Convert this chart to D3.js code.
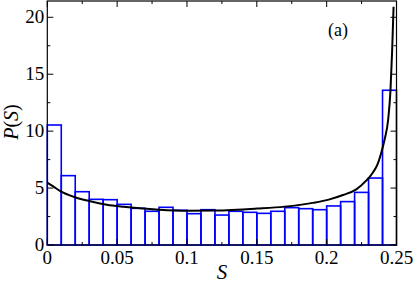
<!DOCTYPE html>
<html>
<head>
<meta charset="utf-8">
<script src="https://cdn.jsdelivr.net/npm/d3@7"></script>
<style>
  html, body { margin: 0; padding: 0; background: #fff; }
  svg { display: block; }
</style>
</head>
<body>
<svg id="chart" width="415" height="283"></svg>
<script>
// histogram: bins of width 0.01 from 0 to 0.25
const binStarts = [0, 0.01, 0.02, 0.03, 0.04, 0.05, 0.06, 0.07, 0.08, 0.09, 0.10, 0.11, 0.12,
  0.13, 0.14, 0.15, 0.16, 0.17, 0.18, 0.19, 0.20, 0.21, 0.22, 0.23, 0.24];
const binHeights = [10.54, 6.09, 4.68, 4.01, 3.98, 3.57, 3.22, 2.96, 3.31, 3.05, 2.75, 3.10, 2.63,
  2.96, 2.87, 2.78, 2.96, 3.28, 3.19, 3.10, 3.43, 3.81, 4.62, 5.88, 13.59];
const binWidth = 0.01;

// theoretical curve
const curveS = [0, 0.0045, 0.0093, 0.0188, 0.0307, 0.0426, 0.0545, 0.0664, 0.08, 0.10, 0.12,
  0.15, 0.17, 0.19, 0.2021, 0.2117, 0.2212, 0.2283, 0.233, 0.2367, 0.239, 0.2414, 0.244,
  0.2457, 0.2469, 0.2479];
const curveP = [5.47, 5.12, 4.74, 4.24, 3.84, 3.54, 3.36, 3.22, 3.10, 3.01, 3.03,
  3.20, 3.37, 3.70, 4.01, 4.39, 4.89, 5.65, 6.35, 7.17, 8.05, 9.22, 10.98,
  13.6, 17.13, 20.93];

const xTicks = [0, 0.05, 0.1, 0.15, 0.2, 0.25];
const xTickLabels = ["0", "0.05", "0.1", "0.15", "0.2", "0.25"];
const xMinor = [0.025, 0.075, 0.125, 0.175, 0.225];
const yTicks = [0, 5, 10, 15, 20];
const yMinor = [2.5, 7.5, 12.5, 17.5];

const FONT = "'Liberation Serif', 'Times New Roman', Times, 'DejaVu Serif', serif";

const svg = d3.select("#chart").attr("font-family", FONT);
const m = { left: 47.3, right: 18.5, top: 1, bottom: 38 };
const W = 415, H = 283;

const x = d3.scaleLinear().domain([0, 0.25]).range([m.left, W - m.right]);
const y = d3.scaleLinear().domain([0, 21.43]).range([H - m.bottom, m.top]);

// bars
svg.append("g")
  .selectAll("rect")
  .data(binStarts.map((s, i) => ({ s, h: binHeights[i] })))
  .join("rect")
  .attr("x", d => x(d.s))
  .attr("y", d => y(d.h))
  .attr("width", d => x(d.s + binWidth) - x(d.s))
  .attr("height", d => y(0) - y(d.h))
  .attr("fill", "none")
  .attr("stroke", "#0000ff")
  .attr("stroke-width", 1.6);

// curve
const line = d3.line()
  .x(d => x(d[0]))
  .y(d => y(d[1]))
  .curve(d3.curveMonotoneX);

svg.append("path")
  .datum(curveS.map((s, i) => [s, curveP[i]]))
  .attr("d", line)
  .attr("fill", "none")
  .attr("stroke", "#000")
  .attr("stroke-width", 2);

// frame
svg.append("rect")
  .attr("x", x(0)).attr("y", y.range()[1])
  .attr("width", x(0.25) - x(0))
  .attr("height", y(0) - y.range()[1])
  .attr("fill", "none")
  .attr("stroke", "#000")
  .attr("stroke-width", 1.2);

// ticks, drawn inward on all four sides
const tickG = svg.append("g").attr("stroke", "#000").attr("stroke-width", 1);
const y0 = y(0), yTop = y.range()[1], xL = x(0), xR = x(0.25);
function xTick(v, len) {
  tickG.append("line").attr("x1", x(v)).attr("x2", x(v)).attr("y1", y0).attr("y2", y0 - len);
  tickG.append("line").attr("x1", x(v)).attr("x2", x(v)).attr("y1", yTop).attr("y2", yTop + len);
}
function yTick(v, len) {
  tickG.append("line").attr("x1", xL).attr("x2", xL + len).attr("y1", y(v)).attr("y2", y(v));
  tickG.append("line").attr("x1", xR).attr("x2", xR - len).attr("y1", y(v)).attr("y2", y(v));
}
xTicks.forEach(v => xTick(v, 6));
xMinor.forEach(v => xTick(v, 3));
yTicks.forEach(v => yTick(v, 6));
yMinor.forEach(v => yTick(v, 3));

// tick labels
svg.append("g")
  .selectAll("text")
  .data(xTicks)
  .join("text")
  .attr("x", d => x(d))
  .attr("y", y0 + 19)
  .attr("text-anchor", "middle")
  .attr("font-size", 19)
  .text((d, i) => xTickLabels[i]);

svg.append("g")
  .selectAll("text")
  .data(yTicks)
  .join("text")
  .attr("x", xL - 3)
  .attr("y", d => y(d) + 6)
  .attr("text-anchor", "end")
  .attr("font-size", 19)
  .text(d => d);

// axis titles
svg.append("text")
  .attr("x", (xL + xR) / 2)
  .attr("y", 279)
  .attr("text-anchor", "middle")
  .attr("font-size", 21)
  .attr("font-style", "italic")
  .text("S");

const yl = svg.append("text")
  .attr("transform", `translate(18,${(y0 + yTop) / 2 - 1}) rotate(-90)`)
  .attr("text-anchor", "middle")
  .attr("font-size", 20);
yl.append("tspan").attr("font-style", "italic").text("P");
yl.append("tspan").text("(");
yl.append("tspan").attr("font-style", "italic").text("S");
yl.append("tspan").text(")");

svg.append("text")
  .attr("x", 338)
  .attr("y", 36)
  .attr("text-anchor", "middle")
  .attr("font-size", 18)
  .text("(a)");
</script>
</body>
</html>
